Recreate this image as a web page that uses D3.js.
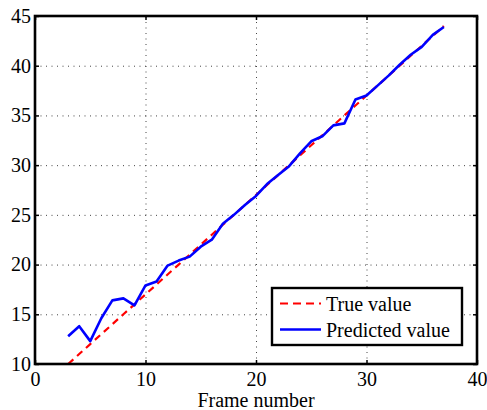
<!DOCTYPE html>
<html>
<head>
<meta charset="utf-8">
<script src="https://cdn.jsdelivr.net/npm/d3@7"></script>
<style>
body { margin: 0; background: #fff; }
</style>
</head>
<body>
<div id="chart"></div>
<script>
// Data
const frames = [3, 4, 5, 6, 7, 8, 9, 10, 11, 12, 13, 14, 15, 16, 17, 18, 19, 20,
    21, 22, 23, 24, 25, 26, 27, 28, 29, 30, 31, 32, 33, 34, 35, 36, 37];
const trueValue = [10, 11, 12, 13, 14, 15, 16, 17, 18, 19, 20, 21, 22, 23, 24, 25, 26, 27,
    28, 29, 30, 31, 32, 33, 34, 35, 36, 37, 38, 39, 40, 41, 42, 43, 44];
const predictedValue = [12.8, 13.8, 12.3, 14.6, 16.4, 16.6, 15.9, 17.9, 18.3, 19.9, 20.4, 20.8,
    21.8, 22.5, 24.1, 25.0, 26.0, 26.9, 28.1, 29.0, 29.9, 31.2, 32.4, 32.9, 34.0, 34.2,
    36.6, 37.0, 38.0, 39.0, 40.1, 41.1, 41.9, 43.1, 43.9];
const xTicks = [0, 10, 20, 30, 40];
const yTicks = [10, 15, 20, 25, 30, 35, 40, 45];
const seriesNames = ["True value", "Predicted value"];

const FONT = "'Liberation Serif', 'Times New Roman', 'DejaVu Serif', serif";
const W = 487, H = 410;
const margin = {top: 16, right: 10, bottom: 46, left: 35};
const width = W - margin.left - margin.right;
const height = H - margin.top - margin.bottom;

const svg = d3.select("#chart").append("svg")
    .attr("width", W)
    .attr("height", H)
    .attr("font-family", FONT);

const g = svg.append("g")
    .attr("transform", `translate(${margin.left},${margin.top})`);

const x = d3.scaleLinear().domain([0, 40]).range([0, width]);
const y = d3.scaleLinear().domain([10, 45]).range([height, 0]);

// Dotted grid
g.append("g")
    .attr("transform", `translate(0,${height})`)
    .call(d3.axisBottom(x).tickValues(xTicks.slice(1, -1)).tickSize(-height).tickFormat(""))
    .call(a => a.select(".domain").remove())
    .selectAll("line")
    .attr("stroke", "#444")
    .attr("stroke-dasharray", "1,4.5");

g.append("g")
    .call(d3.axisLeft(y).tickValues(yTicks.slice(1, -1)).tickSize(-width).tickFormat(""))
    .call(a => a.select(".domain").remove())
    .selectAll("line")
    .attr("stroke", "#444")
    .attr("stroke-dasharray", "1,4.5");

// Lines
const line = d3.line()
    .x((d, i) => x(frames[i]))
    .y(d => y(d));

g.append("path")
    .datum(trueValue)
    .attr("fill", "none")
    .attr("stroke", "#ff0000")
    .attr("stroke-width", 2.2)
    .attr("stroke-dasharray", "7,5")
    .attr("d", line);

g.append("path")
    .datum(predictedValue)
    .attr("fill", "none")
    .attr("stroke", "#0000ff")
    .attr("stroke-width", 2.6)
    .attr("stroke-linejoin", "round")
    .attr("d", line);

// Axes with inward ticks on all four sides
function styleAxis(sel) {
    sel.attr("font-family", null).attr("font-size", null);
    sel.select(".domain").remove();
    sel.selectAll("line").attr("stroke", "#000").attr("stroke-width", 1.5);
    sel.selectAll("text")
        .attr("fill", "#000")
        .style("font-family", FONT)
        .style("font-size", "20px");
}

g.append("g")
    .attr("transform", `translate(0,${height})`)
    .call(d3.axisBottom(x).tickValues(xTicks).tickSize(-4).tickPadding(8))
    .call(styleAxis);

g.append("g")
    .call(d3.axisTop(x).tickValues(xTicks).tickSize(-4).tickFormat(""))
    .call(styleAxis);

g.append("g")
    .call(d3.axisLeft(y).tickValues(yTicks).tickSize(-4).tickPadding(4))
    .call(styleAxis);

g.append("g")
    .attr("transform", `translate(${width},0)`)
    .call(d3.axisRight(y).tickValues(yTicks).tickSize(-4).tickFormat(""))
    .call(styleAxis);

// Frame
g.append("rect")
    .attr("width", width)
    .attr("height", height)
    .attr("fill", "none")
    .attr("stroke", "#000")
    .attr("stroke-width", 2.6);

// X label
g.append("text")
    .attr("x", width / 2)
    .attr("y", height + 43)
    .attr("text-anchor", "middle")
    .style("font-family", FONT)
    .style("font-size", "20px")
    .text("Frame number");

// Legend
const legend = svg.append("g").attr("transform", "translate(272,288)");
legend.append("rect")
    .attr("width", 190)
    .attr("height", 57)
    .attr("fill", "#fff")
    .attr("stroke", "#000")
    .attr("stroke-width", 2.4);

const legendStyles = [
    {color: "#ff0000", dash: "8,5", w: 2.2},
    {color: "#0000ff", dash: null, w: 2.6}
];

seriesNames.forEach((name, i) => {
    const yy = 15.5 + i * 26;
    legend.append("line")
        .attr("x1", 8).attr("x2", 49)
        .attr("y1", yy).attr("y2", yy)
        .attr("stroke", legendStyles[i].color)
        .attr("stroke-width", legendStyles[i].w)
        .attr("stroke-dasharray", legendStyles[i].dash);
    legend.append("text")
        .attr("x", 54)
        .attr("y", yy + 7)
        .style("font-family", FONT)
        .style("font-size", "20px")
        .text(name);
});
</script>
</body>
</html>
